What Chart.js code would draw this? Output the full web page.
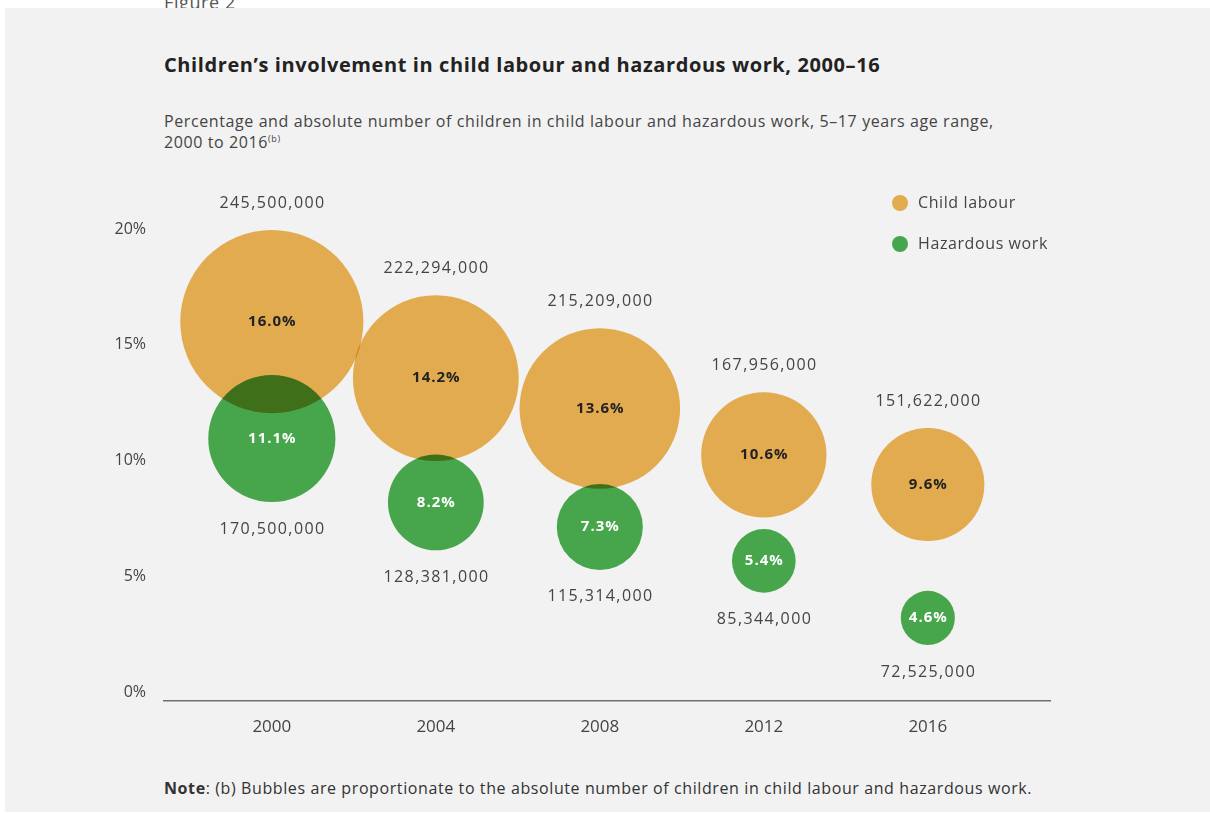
<!DOCTYPE html>
<html lang="en">
<head>
  <meta charset="UTF-8" />
  <title>Children's involvement in child labour and hazardous work, 2000–16</title>
  <style>
    body{margin:0;background:#fff;font-family:"Open Sans",sans-serif;width:1210px;height:814px;position:relative;overflow:hidden}
    #fig{position:absolute;left:164px;top:-10px;font-size:18px;color:#555;letter-spacing:.6px}
    #panel{position:absolute;left:5px;top:8px;width:1205px;height:804px;background:#f2f2f2}
    #title{position:absolute;left:164px;top:51px;font-size:20px;font-weight:700;color:#222;white-space:nowrap;letter-spacing:.6px}
    #sub{position:absolute;left:164px;top:111px;font-size:16px;line-height:21px;color:#444;letter-spacing:.6px}
    #sub sup{font-size:9px;line-height:0}
    #note{position:absolute;left:164px;top:777px;font-size:16px;color:#333;white-space:nowrap;letter-spacing:.6px}
    #wrap{position:absolute;left:0;top:130px;width:1210px;height:671px}
  </style>
  <script src="https://cdn.jsdelivr.net/npm/chart.js"></script>
</head>
<body>
  <div id="fig">Figure 2</div>
  <div id="panel"></div>
  <div id="title">Children’s involvement in child labour and hazardous work, 2000–16</div>
  <div id="sub">Percentage and absolute number of children in child labour and hazardous work, 5–17 years age range,<br>2000 to 2016<sup>(b)</sup></div>
  <div id="note"><strong>Note</strong>: (b) Bubbles are proportionate to the absolute number of children in child labour and hazardous work.</div>
  <div id="wrap"><canvas id="chart"></canvas></div>

<script>
const years=[2000,2004,2008,2012,2016];
const yTicks=[0,5,10,15,20];
// percentages printed in the bubbles
const childPct=[16.0,14.2,13.6,10.6,9.6];
const hazardPct=[11.1,8.2,7.3,5.4,4.6];
// bubble heights as drawn in the figure (%)
const childY=[16.0,13.56,12.25,10.24,8.96];
const hazardY=[10.95,8.19,7.13,5.66,3.2];
// absolute numbers (bubble size)
const childNum=[245500000,222294000,215209000,167956000,151622000];
const hazardNum=[170500000,128381000,115314000,85344000,72525000];

const ORANGE='#e2ab4f', GREEN='#47a64b';
const PX_PER_M=0.373;

const pts=(ys,nums)=>years.map((x,i)=>({x:x,y:ys[i],r:nums[i]/1e6*PX_PER_M}));

const blend={
  id:'blend',
  beforeDatasetsDraw(c){c.ctx.save();c.ctx.globalCompositeOperation='multiply';},
  afterDatasetsDraw(c){c.ctx.restore();}
};

const labels={
  id:'labels',
  afterDraw(c){
    const ctx=c.ctx;
    ctx.save();
    ctx.textAlign='center';ctx.textBaseline='middle';
    [[0,childPct,childNum,'#222',-1],[1,hazardPct,hazardNum,'#fff',1]].forEach(([di,pct,num,col,dir])=>{
      c.getDatasetMeta(di).data.forEach((el,i)=>{
        const r=el.options.radius;
        ctx.font='bold 15px "Open Sans"';ctx.fillStyle=col;ctx.letterSpacing='1px';
        ctx.fillText(pct[i].toFixed(1)+'%',el.x+0.5,el.y);
        ctx.font='16px "Open Sans"';ctx.fillStyle='#444';ctx.letterSpacing='1.4px';
        ctx.fillText(num[i].toLocaleString('en-US'),el.x+0.7,el.y+dir*(r+27));
      });
    });
    // legend
    ctx.textAlign='left';ctx.font='16px "Open Sans"';ctx.letterSpacing='0.6px';
    [['Child labour',ORANGE,73],['Hazardous work',GREEN,114]].forEach(([t,col,y])=>{
      ctx.fillStyle=col;ctx.beginPath();ctx.arc(900,y,8,0,Math.PI*2);ctx.fill();
      ctx.fillStyle='#444';ctx.fillText(t,918,y);
    });
    ctx.restore();
  }
};

new Chart(document.getElementById('chart'),{
  type:'bubble',
  data:{datasets:[
    {label:'Child labour',data:pts(childY,childNum),backgroundColor:ORANGE,borderWidth:0,hoverBorderWidth:0,clip:false},
    {label:'Hazardous work',data:pts(hazardY,hazardNum),backgroundColor:GREEN,borderWidth:0,hoverBorderWidth:0,clip:false}
  ]},
  options:{
    responsive:true,maintainAspectRatio:false,animation:false,
    layout:{padding:{left:0,right:160,top:99,bottom:0}},
    plugins:{legend:{display:false},tooltip:{enabled:false}},
    scales:{
      x:{type:'linear',min:1997.37,max:2018.98,
        grid:{display:false,drawTicks:false},
        border:{display:true,color:'#707070',width:1.5},
        afterBuildTicks:s=>{s.ticks=years.map(v=>({value:v}));},
        afterFit:s=>{s.height=100;},
        ticks:{padding:16,color:'#444',font:{family:'"Open Sans"',size:17},callback:v=>String(v),maxRotation:0}
      },
      y:{min:-0.39,max:20,
        grid:{display:false,drawTicks:false},
        border:{display:false},
        afterBuildTicks:s=>{s.ticks=yTicks.map(v=>({value:v}));},
        afterFit:s=>{s.width=164;},
        ticks:{padding:18,color:'#444',font:{family:'"Open Sans"',size:16},callback:v=>v+'%'}
      }
    }
  },
  plugins:[blend,labels]
});
</script>
</body>
</html>
